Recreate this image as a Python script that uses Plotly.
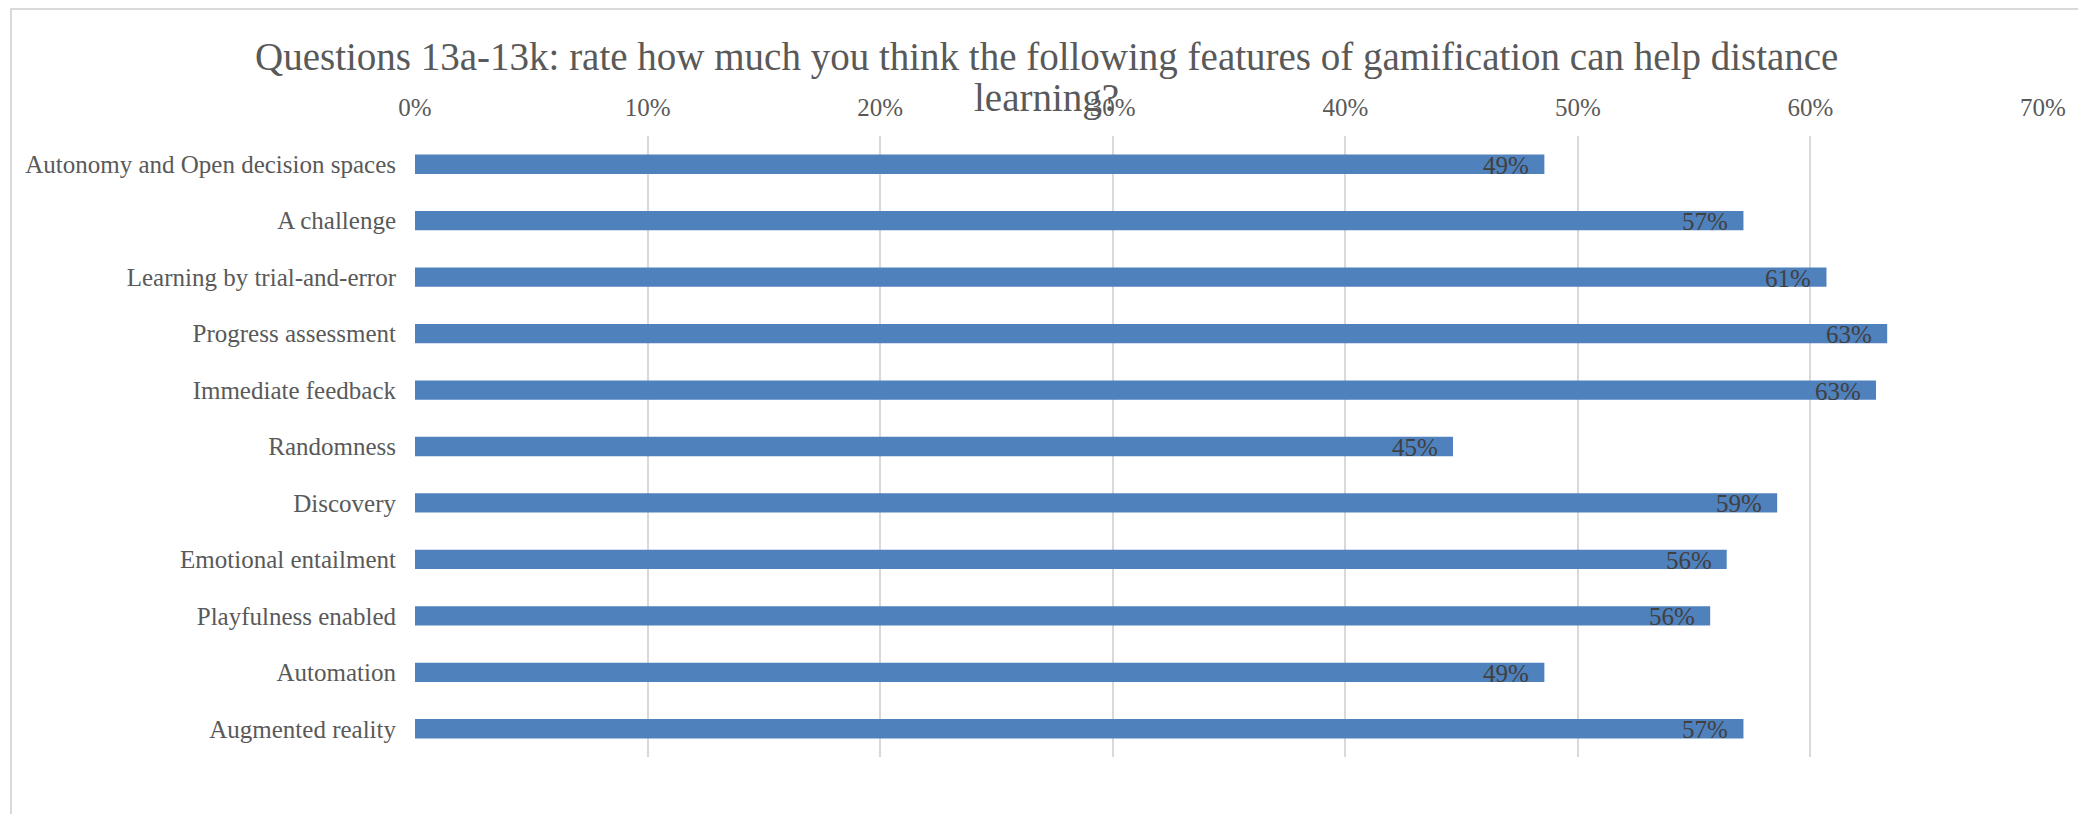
import plotly.graph_objects as go

categories = [
    "Autonomy and Open decision spaces",
    "A challenge",
    "Learning by trial-and-error",
    "Progress assessment",
    "Immediate feedback",
    "Randomness",
    "Discovery",
    "Emotional entailment",
    "Playfulness enabled",
    "Automation",
    "Augmented reality",
]
values = [0.4856, 0.5712, 0.6069, 0.6330, 0.6282, 0.4463, 0.5857, 0.5640, 0.5569, 0.4856, 0.5712]
tick_values = [0, 0.1, 0.2, 0.3, 0.4, 0.5, 0.6, 0.7]
tick_labels = ["0%", "10%", "20%", "30%", "40%", "50%", "60%", "70%"]
title_lines = [
    "Questions 13a-13k: rate how much you think the following features of gamification can help distance",
    "learning?",
]

FONT = "Liberation Serif"
W, H = 2078, 814
L, R, T, B = 415, 27, 136, 57

fig = go.Figure()
fig.add_trace(go.Bar(
    y=categories, x=values, orientation="h",
    marker=dict(color="#4f81bd", line=dict(width=0)),
    hoverinfo="skip",
))

for c, v in zip(categories, values):
    fig.add_annotation(
        x=v, y=c, xref="x", yref="y", text=f"{round(v * 100)}%",
        showarrow=False, xanchor="right", yanchor="middle",
        xshift=-13, yshift=-1,
        font=dict(family=FONT, size=25, color="#404040"),
    )

pw = W - L - R
ph = H - T - B
for line, yc in zip(title_lines, [57, 98]):
    fig.add_annotation(
        x=(1050 - L) / pw, y=1 + (T - yc) / ph, xref="paper", yref="paper",
        text=line, showarrow=False, xanchor="center", yanchor="middle",
        font=dict(family=FONT, size=39, color="#595959"),
    )

# chart area border (top and left edges visible)
fig.add_shape(
    type="rect", xref="paper", yref="paper",
    x0=(9 - L) / pw, x1=(W + 20 - L) / pw,
    y0=-(B + 20) / ph, y1=1 + (T - 9) / ph,
    line=dict(color="#d9d9d9", width=2), layer="below",
)

fig.update_layout(
    width=W, height=H,
    margin=dict(l=L, r=R, t=T, b=B, pad=0),
    paper_bgcolor="white", plot_bgcolor="white",
    bargap=0.658, showlegend=False,
    font=dict(family=FONT, size=25, color="#595959"),
)
fig.update_xaxes(
    range=[0, 0.7], side="top", tickvals=tick_values, ticktext=tick_labels,
    showgrid=True, gridcolor="#d9d9d9", gridwidth=2,
    zeroline=False, showline=False, ticks="", ticklabelstandoff=14,
    tickfont=dict(family=FONT, size=25, color="#595959"),
)
fig.update_yaxes(
    autorange="reversed", showgrid=False, zeroline=False, showline=False,
    ticks="", ticklabelstandoff=18,
    tickfont=dict(family=FONT, size=25, color="#595959"),
)

fig.write_html("out.html")
